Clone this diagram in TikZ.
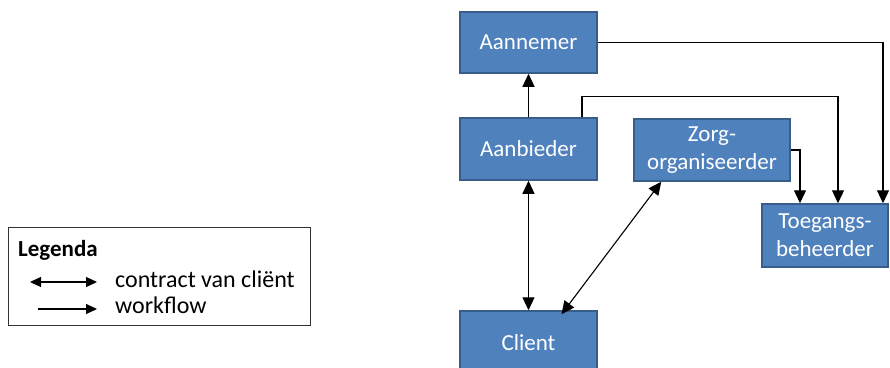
\documentclass[tikz,border=0pt]{standalone}
\usepackage{fontspec}
\setmainfont{Carlito}
\usetikzlibrary{arrows.meta}
\definecolor{boxfill}{HTML}{4F81BD}
\definecolor{boxline}{HTML}{385D8A}
\begin{document}
\begin{tikzpicture}[x=1pt,y=-1pt,
  actor/.style={draw=boxline,fill=boxfill,line width=1.5pt,text=white,
    align=center,inner sep=0pt,font=\fontsize{23}{28}\selectfont},
  flow/.style={line width=1.1pt,-{Triangle[length=13pt,width=12pt]}},
  contract/.style={line width=1.1pt,{Triangle[length=13pt,width=12pt]}-{Triangle[length=13pt,width=12pt]}},
  legendtext/.style={anchor=base west,inner sep=0pt,font=\fontsize{24}{28}\selectfont}]
\useasboundingbox (0,0) rectangle (890,367);

% organisations
\node[actor,minimum width=137pt,minimum height=61pt] (Aannemer) at (528.5,42.5) {Aannemer};
\node[actor,minimum width=137pt,minimum height=62pt] (Aanbieder) at (528.5,149) {Aanbieder};
\node[actor,minimum width=156pt,minimum height=62pt] (Zorg) at (712,150) {Zorg-\\organiseerder};
\node[actor,minimum width=126pt,minimum height=63pt] (Toegang) at (825,235.5) {Toegangs-\\beheerder};
\node[actor,minimum width=137pt,minimum height=64pt] (Client) at (528.5,343) {Client};

% workflow
\draw[flow] (Aanbieder.north) -- (Aannemer.south);
\draw[flow] (Aannemer.east) -| ([xshift=58pt]Toegang.north);
\draw[flow] ([xshift=53.5pt]Aanbieder.north) -- ++(0,-21) -| ([xshift=13pt]Toegang.north);
\draw[flow] (Zorg.east) -| ([xshift=-25pt]Toegang.north);

% contracts
\draw[contract] (Aanbieder.south) -- (Client.north);
\draw[contract] ([xshift=28pt]Zorg.south west) -- ([xshift=33pt,yshift=-4pt]Client.north);

% legend
\node[draw=black!80,line width=0.8pt,minimum width=302pt,minimum height=98pt,inner sep=0pt] (Legend) at (159,276) {};
\node[legendtext,font=\fontsize{23}{28}\selectfont\bfseries] (LegTitle) at (18,256) {Legenda};
\coordinate (c1) at (30,282);
\coordinate (c2) at (97,282);
\coordinate (w1) at (38,309);
\coordinate (w2) at (97,309);
\draw[contract,{Triangle[length=11pt,width=10pt]}-{Triangle[length=11pt,width=10pt]}] (c1) -- (c2);
\draw[flow,-{Triangle[length=11pt,width=10pt]}] (w1) -- (w2);
\node[legendtext] (LegContract) at (115,287) {contract van cliënt};
\node[legendtext] (LegFlow) at (115,313) {workflow};
\end{tikzpicture}
\end{document}
